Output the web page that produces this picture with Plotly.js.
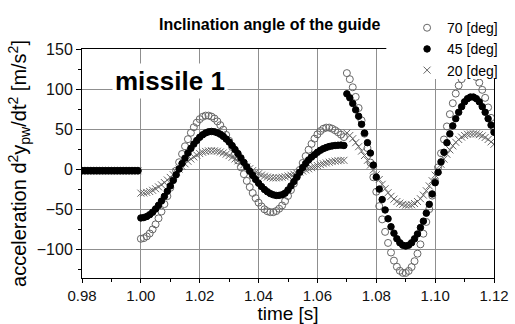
<!DOCTYPE html>
<html>
<head>
<meta charset="utf-8">
<script src="https://cdn.plot.ly/plotly-3.0.1.min.js"></script>
<style>html,body{margin:0;padding:0;background:#fff;}#chart{width:515px;height:324px;}</style>
</head>
<body>
<div id="chart"></div>
<script>
// time samples [s]
const tFlat = [0.980,0.981,0.982,0.983,0.984,0.985,0.986,0.987,0.988,0.989,0.990,0.991,0.992,0.993,0.994,0.995,0.996,0.997,0.998,0.999];
const tMain = [1.000,1.001,1.002,1.003,1.004,1.005,1.006,1.007,1.008,1.009,1.010,1.011,1.012,1.013,1.014,1.015,1.016,1.017,1.018,1.019,
               1.020,1.021,1.022,1.023,1.024,1.025,1.026,1.027,1.028,1.029,1.030,1.031,1.032,1.033,1.034,1.035,1.036,1.037,1.038,1.039,
               1.040,1.041,1.042,1.043,1.044,1.045,1.046,1.047,1.048,1.049,1.050,1.051,1.052,1.053,1.054,1.055,1.056,1.057,1.058,1.059,
               1.060,1.061,1.062,1.063,1.064,1.065,1.066,1.067,1.068,1.069];
const tLate = [1.070,1.071,1.072,1.073,1.074,1.075,1.076,1.077,1.078,1.079,1.080,1.081,1.082,1.083,1.084,1.085,1.086,1.087,1.088,1.089,
               1.090,1.091,1.092,1.093,1.094,1.095,1.096,1.097,1.098,1.099,1.100,1.101,1.102,1.103,1.104,1.105,1.106,1.107,1.108,1.109,
               1.110,1.111,1.112,1.113,1.114,1.115,1.116,1.117,1.118,1.119,1.120];

// before launch (all angles)
const yFlat = [-2,-2,-2,-2,-2,-2,-2,-2,-2,-2,-2,-2,-2,-2,-2,-2,-2,-2,-2,-2];

// 70 deg
const y70Main = [-87,-86.2,-84,-80.4,-75.3,-69,-61.5,-53,-43.7,-33.8,-23.4,-12.7,-1.9,8.6,18.9,28.5,37.4,45.4,52.3,58,62.4,65.3,66.8,
                 66.8,65.6,63.2,59.6,54.9,49.3,42.7,35.5,27.7,19.3,10.8,2.2,-6.3,-14.7,-22.5,-29.8,-36.3,-41.9,-46.6,-50.2,-52.6,-53.8,
                 -53.8,-52.4,-49.5,-45.4,-40,-33.5,-26.2,-18.2,-9.7,-1,7.7,16.2,24.2,31.5,38,43.4,47.5,50.4,51.8,
                 51.8,50.5,48.5,46,43,40];
const y70Late = [119.9,112.3,102.2,90.2,76.3,60.8,44.2,26.3,8.2,-10.2,-28.3,-46.2,-62.8,-78.4,-92.2,-104.2,-114.3,-121.9,-127,-129.6,
                 -129.7,-127.2,-122.3,-115,-105.6,-94,-80.7,-66,-50,-33.1,-15.6,2.2,19.8,37,53.3,68.6,82.3,94.3,104.4,112.4,118,121.2,
                 122,120,115,108,99,89,77,64,50];

// 45 deg
const y45Main = [-61,-60.5,-59.2,-56.9,-53.8,-49.8,-45.2,-39.9,-34,-27.7,-21,-14.1,-7,0.1,7,13.7,20,25.9,31.2,35.8,39.8,42.9,45.2,46.5,47,
                 46.6,45.4,43.6,40.9,37.6,33.8,29.4,24.5,19.4,14,8.4,2.8,-2.7,-8,-13,-17.6,-21.8,-25.4,-28.3,-30.6,-32.1,-32.9,
                 -32.8,-32,-30,-26,-21,-15.5,-10,-4,2,7,11.5,15,18,21,23.5,25.5,27,28.2,29,29.5,29.8,30,29.5];
const y45Late = [94,89,82,74,66,56,45,33,20,5,-10,-25,-38,-51,-62,-72,-80,-87,-92,-95,-96,-95,-92,-87,
                 -81,-73,-65,-55,-44,-31,-17,-4,9,21,33,44,54,63,71,78,84,88,90,90,88,84,78,71,63,55,46];

// 20 deg
const y20Main = [-30,-29.8,-29.1,-28,-26.5,-24.5,-22.2,-19.6,-16.8,-13.6,-10.4,-7,-3.5,0,3.4,6.6,9.8,12.6,15.2,17.5,19.4,21,22.1,22.8,23,
                 22.8,22.3,21.4,20.2,18.7,16.9,14.8,12.7,10.3,7.9,5.4,2.9,0.5,-1.8,-3.9,-5.8,-7.5,-8.8,-9.9,-10.6,-11,
                 -11,-10.7,-10.2,-9.5,-8.6,-7.6,-6.4,-5.1,-3.8,-2.4,-1,0.4,1.8,3.1,4.4,5.6,6.7,7.7,8.6,9.4,10,10.5,10.8,11];
const y20Late = [45,42,38,33,28,22.5,17,11,5,-1,-7,-13,-19,-24.5,-29.5,-34,-37.5,-40.5,-42.5,-44,-45,
                 -45,-44.5,-43,-40.5,-37,-32.5,-27,-21,-14.5,-7.5,-1,6,12.5,18.5,24,29,33.5,37,40,42,43.5,44,44,44,43,41.5,39.5,37,34,31];

const seriesNames = ['70 [deg]','45 [deg]','20 [deg]'];
const xTickLabels = ['0.98','1.00','1.02','1.04','1.06','1.08','1.10','1.12'];
const xTickVals = [0.98,1.00,1.02,1.04,1.06,1.08,1.10,1.12];

const tAll = tFlat.concat(tMain, tLate);
const FONT = 'Liberation Sans, Arial, Helvetica, sans-serif';

const traces = [
  {x: tAll, y: yFlat.concat(y70Main, y70Late), name: seriesNames[0], legendrank: 1, type: 'scatter', mode: 'markers',
   marker: {symbol: 'circle-open', size: 7, color: '#666666', line: {width: 1, color: '#666666'}}},
  {x: tAll, y: yFlat.concat(y20Main, y20Late), name: seriesNames[2], legendrank: 3, type: 'scatter', mode: 'markers',
   marker: {symbol: 'x-thin-open', size: 7, color: '#666666', line: {width: 1, color: '#666666'}}},
  {x: tAll, y: yFlat.concat(y45Main, y45Late), name: seriesNames[1], legendrank: 2, type: 'scatter', mode: 'markers',
   marker: {symbol: 'circle', size: 6.5, color: '#000000', line: {width: 1, color: '#000000'}}}
];

const layout = {
  width: 515, height: 324,
  margin: {l: 82, r: 16, t: 42, b: 46, pad: 0},
  paper_bgcolor: '#ffffff', plot_bgcolor: '#ffffff',
  font: {family: FONT, color: '#000000'},
  showlegend: true,
  legend: {x: 0.789, y: 1.161, xanchor: 'left', yanchor: 'top', bgcolor: 'rgba(0,0,0,0)', traceorder: 'normal',
           font: {family: FONT, size: 14, color: '#000'}, itemwidth: 30, tracegroupgap: 0},
  xaxis: {
    range: [0.98, 1.12], tickmode: 'array', tickvals: xTickVals, ticktext: xTickLabels,
    ticks: 'outside', ticklen: 4, tickcolor: '#000', tickwidth: 1,
    showline: true, linecolor: '#000', linewidth: 1, mirror: true,
    showgrid: true, gridcolor: '#8f8f8f', gridwidth: 1, zeroline: false,
    tickfont: {family: FONT, size: 15, color: '#111'},
    minor: {dtick: 0.01, tick0: 0.98, ticks: 'outside', ticklen: 3, tickcolor: '#000', showgrid: false},
    title: {text: 'time [s]', font: {family: FONT, size: 19, color: '#000'}, standoff: 5}
  },
  yaxis: {
    range: [-136, 150], tick0: 0, dtick: 50,
    ticks: 'outside', ticklen: 5, tickcolor: '#000', tickwidth: 1,
    showline: true, linecolor: '#000', linewidth: 1, mirror: true,
    showgrid: true, gridcolor: '#8f8f8f', gridwidth: 1, zeroline: false,
    tickfont: {family: FONT, size: 16, color: '#111'},
    minor: {dtick: 25, tick0: 0, ticks: 'outside', ticklen: 3, tickcolor: '#000', showgrid: false},
    title: {text: 'acceleration d<sup>2</sup>y<sub>pw</sub>/dt<sup>2</sup> [m/s<sup>2</sup>]',
            font: {family: FONT, size: 20, color: '#000'}, standoff: 4}
  },
  shapes: [
    {type: 'rect', xref: 'paper', yref: 'paper', x0: 0.7386, x1: 1.1, y0: 0.8686, y1: 1.2,
     fillcolor: '#ffffff', line: {width: 0}, layer: 'above'}
  ],
  annotations: [
    {text: '<b>missile 1</b>', xref: 'paper', yref: 'paper', x: 0.2134, y: 0.86, xanchor: 'center', yanchor: 'middle',
     showarrow: false, bgcolor: '#ffffff', borderpad: 2, font: {family: FONT, size: 26, color: '#000'}},
    {text: '<b>Inclination angle of the guide</b>', xref: 'paper', yref: 'paper', x: 0.4556, y: 1.106,
     xanchor: 'center', yanchor: 'middle', showarrow: false, font: {family: FONT, size: 16, color: '#000'}}
  ]
};

Plotly.newPlot('chart', traces, layout, {displayModeBar: false, staticPlot: true});
</script>
</body>
</html>
